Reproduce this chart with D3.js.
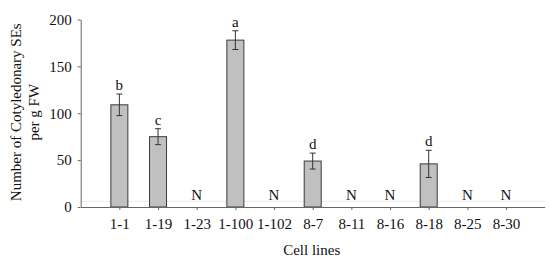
<!DOCTYPE html>
<html lang="en">
<head>
<meta charset="UTF-8" />
<title>Cotyledonary SEs per cell line</title>
<script src="https://d3js.org/d3.v7.min.js"></script>
<style>
  body { margin: 0; background: #fff; }
  svg text { font-family: "Liberation Serif", "Times New Roman", serif; fill: #111; }
</style>
</head>
<body>
<svg width="550" height="261"></svg>
<script>
// data
const cellLines = ["1-1", "1-19", "1-23", "1-100", "1-102", "8-7", "8-11", "8-16", "8-18", "8-25", "8-30"];
const meanSEs   = [109, 75, 0, 178, 0, 49, 0, 0, 46, 0, 0];
const errSEs    = [11.5, 8.5, 0, 10, 0, 8.5, 0, 0, 14.5, 0, 0];
const groupLetters = ["b", "c", "N", "a", "N", "d", "N", "N", "d", "N", "N"];
const yTicks = [0, 50, 100, 150, 200];

const svg = d3.select("svg");
const margin = { top: 19.5, right: 5.3, bottom: 54, left: 80.7 };
const width = 550 - margin.left - margin.right;
const height = 261 - margin.top - margin.bottom;
const g = svg.append("g").attr("transform", `translate(${margin.left},${margin.top})`);

const x = d3.scalePoint().domain(cellLines).range([0, width]).padding(1);
const y = d3.scaleLinear().domain([0, 200]).range([height, 0]);
const barW = 17;

const rows = cellLines.map((c, i) => ({ c, v: meanSEs[i], e: errSEs[i], t: groupLetters[i] }));

// faint floor line
g.append("line")
  .attr("x1", 0).attr("x2", width)
  .attr("y1", y(6)).attr("y2", y(6))
  .attr("stroke", "#ececec").attr("stroke-width", 1);

// bars
g.selectAll(".bar")
  .data(rows.filter(d => d.v > 0))
  .enter().append("rect")
  .attr("x", d => x(d.c) - barW / 2)
  .attr("y", d => y(d.v))
  .attr("width", barW)
  .attr("height", d => y(0) - y(d.v))
  .attr("fill", "#c0c0c0")
  .attr("stroke", "#3a3a3a")
  .attr("stroke-width", 1);

// error bars
const eb = g.selectAll(".err")
  .data(rows.filter(d => d.e > 0))
  .enter().append("g")
  .attr("stroke", "#333").attr("stroke-width", 1);
eb.append("line")
  .attr("x1", d => x(d.c)).attr("x2", d => x(d.c))
  .attr("y1", d => y(d.v + d.e)).attr("y2", d => y(d.v - d.e));
eb.append("line")
  .attr("x1", d => x(d.c) - 3).attr("x2", d => x(d.c) + 3)
  .attr("y1", d => y(d.v + d.e)).attr("y2", d => y(d.v + d.e));
eb.append("line")
  .attr("x1", d => x(d.c) - 3).attr("x2", d => x(d.c) + 3)
  .attr("y1", d => y(d.v - d.e)).attr("y2", d => y(d.v - d.e));

// group letters
g.selectAll(".lbl")
  .data(rows)
  .enter().append("text")
  .attr("x", d => x(d.c))
  .attr("y", d => d.v > 0 ? y(d.v + d.e) - 4 : y(0) - 7)
  .attr("text-anchor", "middle")
  .attr("font-size", 15)
  .text(d => d.t);

// axes
const xAxis = g.append("g")
  .attr("transform", `translate(0,${height})`)
  .call(d3.axisBottom(x).tickSizeInner(3).tickSizeOuter(0).tickPadding(8));
const yAxis = g.append("g")
  .call(d3.axisLeft(y).tickValues(yTicks).tickSizeInner(3).tickSizeOuter(0).tickPadding(6));

[xAxis, yAxis].forEach(a => {
  a.select(".domain").attr("stroke", "#666");
  a.selectAll(".tick line").attr("stroke", "#666");
  a.selectAll("text")
    .attr("font-size", 15)
    .attr("font-family", "Liberation Serif, Times New Roman, serif")
    .attr("fill", "#111");
});
xAxis.selectAll("text").attr("dy", "0.71em");

// axis titles
svg.append("text")
  .attr("x", margin.left + width / 2 - 1)
  .attr("y", 255)
  .attr("text-anchor", "middle")
  .attr("font-size", 15)
  .text("Cell lines");

const yt = svg.append("text")
  .attr("transform", `translate(21,${margin.top + height / 2 - 1}) rotate(-90)`)
  .attr("text-anchor", "middle")
  .attr("font-size", 15);
yt.append("tspan").attr("x", 0).attr("dy", 0).text("Number of Cotyledonary SEs");
yt.append("tspan").attr("x", 0).attr("dy", 18).text("per g FW");
</script>
</body>
</html>
